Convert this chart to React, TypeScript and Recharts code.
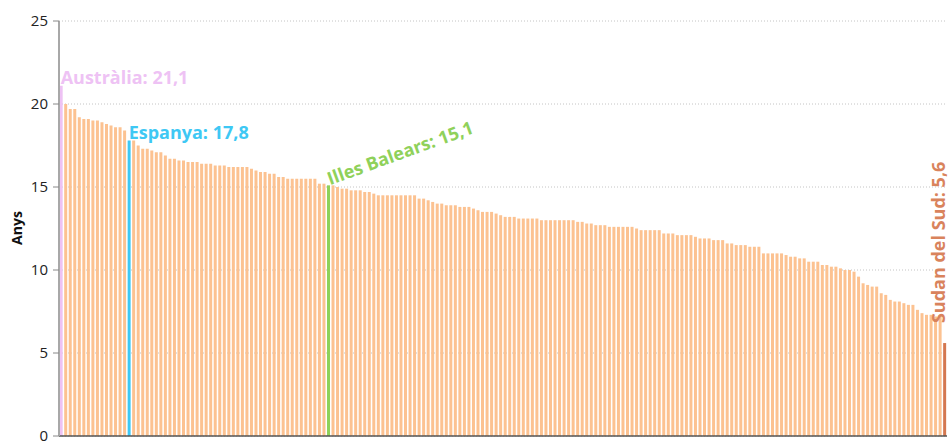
import React from 'react';
import { BarChart, Bar, XAxis, YAxis, CartesianGrid, Cell, LabelList } from 'recharts';

// Valors en anys, ordenats de més alt a més baix
const values: number[] = [
  21.1, 20.0, 19.7, 19.7, 19.2, 19.1, 19.1, 19.0, 19.0, 18.9,
  18.8, 18.7, 18.6, 18.6, 18.4, 17.8, 17.8, 17.5, 17.3, 17.3,
  17.2, 17.1, 17.1, 16.9, 16.7, 16.7, 16.6, 16.6, 16.5, 16.5,
  16.5, 16.4, 16.4, 16.4, 16.3, 16.3, 16.3, 16.2, 16.2, 16.2,
  16.2, 16.2, 16.1, 16.0, 15.9, 15.9, 15.8, 15.8, 15.6, 15.6,
  15.5, 15.5, 15.5, 15.5, 15.5, 15.5, 15.5, 15.2, 15.2, 15.1,
  15.1, 15.0, 14.9, 14.9, 14.8, 14.8, 14.8, 14.7, 14.7, 14.6,
  14.5, 14.5, 14.5, 14.5, 14.5, 14.5, 14.5, 14.5, 14.5, 14.3,
  14.3, 14.2, 14.1, 14.0, 14.0, 13.9, 13.9, 13.9, 13.8, 13.8,
  13.8, 13.7, 13.6, 13.5, 13.5, 13.5, 13.4, 13.3, 13.2, 13.2,
  13.2, 13.1, 13.1, 13.1, 13.1, 13.1, 13.0, 13.0, 13.0, 13.0,
  13.0, 13.0, 13.0, 13.0, 12.9, 12.9, 12.8, 12.8, 12.7, 12.7,
  12.7, 12.6, 12.6, 12.6, 12.6, 12.6, 12.6, 12.5, 12.4, 12.4,
  12.4, 12.4, 12.4, 12.2, 12.2, 12.2, 12.1, 12.1, 12.1, 12.1,
  12.0, 11.9, 11.9, 11.9, 11.8, 11.8, 11.8, 11.6, 11.6, 11.5,
  11.5, 11.5, 11.4, 11.4, 11.4, 11.0, 11.0, 11.0, 11.0, 11.0,
  10.9, 10.8, 10.8, 10.7, 10.7, 10.5, 10.5, 10.5, 10.3, 10.3,
  10.2, 10.2, 10.1, 10.0, 10.0, 9.9, 9.6, 9.2, 9.1, 9.0,
  9.0, 8.6, 8.5, 8.2, 8.1, 8.1, 8.0, 7.9, 7.9, 7.6,
  7.4, 7.3, 7.3, 7.2, 7.2, 5.6,
];

// Categories: only the highlighted ones are named in the chart
const highlights = [
  { index: 0, name: 'Austràlia', text: 'Austràlia: 21,1', color: '#eec2f4', textColor: '#eec2f4' },
  { index: 15, name: 'Espanya', text: 'Espanya: 17,8', color: '#3ec8f4', textColor: '#3ec8f4' },
  { index: 59, name: 'Illes Balears', text: 'Illes Balears: 15,1', color: '#8fd15a', textColor: '#8fd15a' },
  { index: 195, name: 'Sudan del Sud', text: 'Sudan del Sud: 5,6', color: '#d4774f', textColor: '#d9835c' },
];

const categories: string[] = values.map((_, i) => {
  const h = highlights.find((d) => d.index === i);
  return h ? h.name : `país ${i + 1}`;
});

const yTicks = [0, 5, 10, 15, 20, 25];
const BASE_COLOR = '#fcc291';
const FONT = '"Open Sans", "Noto Sans", sans-serif';

const data = values.map((v, i) => {
  const h = highlights.find((d) => d.index === i);
  return {
    name: categories[i],
    value: v,
    color: h ? h.color : BASE_COLOR,
    label: h ? h.text : undefined,
  };
});

const renderLabel = (props: any) => {
  const { x, y, width, value } = props;
  if (!value) return null;
  const h = highlights.find((d) => d.text === value);
  if (!h) return null;
  const bx = Number(x);
  const by = Number(y);
  const bw = Number(width);
  const common = {
    fill: h.textColor,
    fontFamily: FONT,
    fontWeight: 700,
    fontSize: 18,
  } as any;
  if (h.name === 'Illes Balears') {
    const px = bx + 3;
    const py = by;
    return (
      <text x={px} y={py} {...common} textAnchor="start" transform={`rotate(-20, ${px}, ${py})`}>
        {value}
      </text>
    );
  }
  if (h.name === 'Sudan del Sud') {
    const px = bx + bw - 1.5;
    const py = by - 20;
    return (
      <text x={px} y={py} {...common} textAnchor="start" transform={`rotate(-90, ${px}, ${py})`}>
        {value}
      </text>
    );
  }
  return (
    <text x={bx + 1} y={by - 1.5} {...common} textAnchor="start">
      {value}
    </text>
  );
};

const renderYLabel = () => (
  <text
    x={22}
    y={228}
    transform="rotate(-90, 22, 228)"
    textAnchor="middle"
    fontFamily={FONT}
    fontWeight={700}
    fontSize={14}
    fill="#111"
  >
    Anys
  </text>
);

export default function App() {
  return (
    <div style={{ position: 'absolute', left: 0, top: 0, width: 949, height: 441, background: '#fff' }}>
      <BarChart
        width={949}
        height={441}
        data={data}
        margin={{ top: 21, right: 2, bottom: 0, left: 0 }}
        barCategoryGap="15%"
      >
        <CartesianGrid vertical={false} stroke="#c4c4c4" strokeDasharray="1 2" />
        <XAxis
          dataKey="name"
          tick={false}
          tickLine={false}
          height={5}
          axisLine={{ stroke: '#555', strokeWidth: 1.5 }}
        />
        <YAxis
          width={59}
          domain={[0, 25]}
          ticks={yTicks}
          interval={0}
          tickSize={6}
          tickMargin={5}
          axisLine={{ stroke: '#a8a8a8', strokeWidth: 2 }}
          tickLine={{ stroke: '#888' }}
          tick={{ fill: '#222', fontSize: 15, fontFamily: FONT }}
          label={renderYLabel as any}
        />
        <Bar dataKey="value" isAnimationActive={false}>
          {data.map((d, i) => (
            <Cell key={i} fill={d.color} />
          ))}
          <LabelList dataKey="label" content={renderLabel as any} />
        </Bar>
      </BarChart>
    </div>
  );
}
